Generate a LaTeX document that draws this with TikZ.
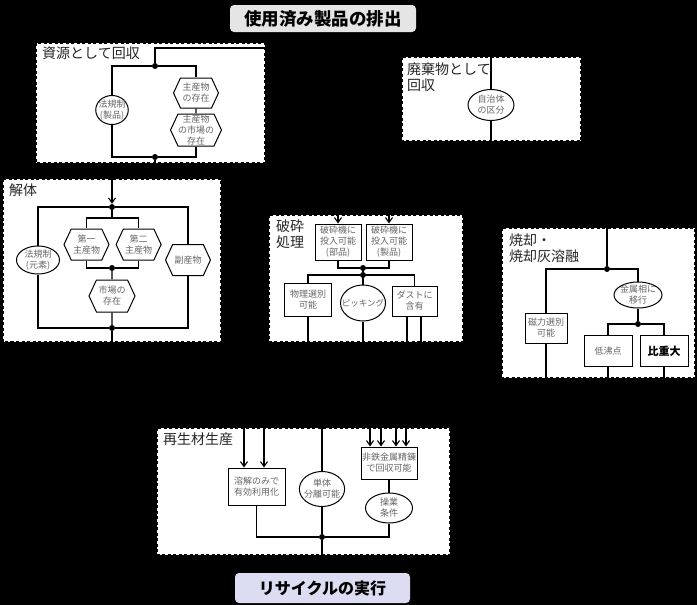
\documentclass[tikz,border=0pt]{standalone}
\usepackage{fontspec}
\setmainfont{Noto Sans CJK JP}
\usetikzlibrary{shapes.geometric, shapes.symbols, arrows.meta, positioning, calc}

\newcommand{\nodefont}{\fontsize{9}{11}\selectfont}

\begin{document}
\begin{tikzpicture}[
    x=1pt, y=-1pt,
    panel/.style={draw=black, fill=white, line width=2.4pt, dash pattern=on 3pt off 2.5pt},
    ptitle/.style={anchor=north west, align=left, inner sep=0pt, font=\fontsize{14}{16}\selectfont, text=black!85},
    headbox/.style={rounded corners=4pt, inner sep=0pt, font=\fontsize{17.5}{20}\selectfont\bfseries, text=black},
    proc/.style={rectangle, draw=black, line width=1pt, fill=white, align=center, inner sep=1pt, font=\nodefont, text=black!60},
    cond/.style={ellipse, draw=black, line width=1pt, fill=white, align=center, inner sep=-2pt, font=\nodefont, text=black!60},
    hexa/.style={signal, signal to=west and east, signal pointer angle=130, draw=black, line width=1pt, fill=white, align=center, inner sep=0pt, font=\nodefont, text=black!60},
    dot/.style={circle, fill=black, inner sep=0pt, minimum size=6pt},
    link/.style={line width=1.1pt},
    arr/.style={link, -{Straight Barb[length=5pt, width=7pt]}}
  ]
    \fill[black] (0,0) rectangle (697,605);
    \useasboundingbox (0,0) rectangle (697,605);

    % --- Start / end ---
    \node[headbox, fill=black!10, minimum width=186pt, minimum height=27pt] (start) at (323,18.5) {使用済み製品の排出};
    \node[headbox, fill={rgb,255:red,220;green,220;blue,242}, minimum width=175pt, minimum height=30pt, font=\fontsize{16}{18}\selectfont\bfseries] (recycle) at (322.5,588) {リサイクルの実行};

    % --- Panels ---
    \draw[panel] (36,43) rectangle (265,163);
    \draw[panel] (402,57) rectangle (581,141);
    \draw[panel] (3,179) rectangle (221,342);
    \draw[panel] (269,215) rectangle (463,342);
    \draw[panel] (502,228) rectangle (695,378);
    \draw[panel] (157,428) rectangle (450,555);

    \node[ptitle] (t1) at (42,47) {資源として回収};
    \node[ptitle] (t2) at (407,63) {廃棄物として\\回収};
    \node[ptitle] (t3) at (9,184) {解体};
    \node[ptitle] (t4) at (276,220) {破砕\\処理};
    \node[ptitle] (t5) at (509,234) {焼却・\\焼却灰溶融};
    \node[ptitle] (t6) at (163,433) {再生材生産};

    % --- Resource collection ---
    \node[cond, minimum width=32pt, minimum height=29pt] (lawp) at (112,110) {法規制\\(製品)};
    \node[hexa, minimum width=45pt, minimum height=30pt] (mainx) at (196,93) {主産物\\の存在};
    \node[hexa, minimum width=45pt, minimum height=32pt, below=5pt of mainx] (mainmk) {主産物\\の市場の\\存在};
    \node[dot] (j1a) at (155,66) {};
    \node[dot] (j1b) at (155,157) {};
    \coordinate (in1) at (265,48);
    \coordinate (out1) at (155,163);

    \draw[link] (in1) -| (j1a);
    \draw[link] (j1a) -| (lawp);
    \draw[link] (j1a) -| (mainx);
    \draw[link] (mainx) -- (mainmk);
    \draw[link] (lawp) |- (j1b);
    \draw[link] (mainmk) |- (j1b);
    \draw[link] (j1b) -- (out1);

    % --- Waste collection ---
    \node[cond, minimum width=46pt, minimum height=31pt] (muni) at (491,105) {自治体\\の区分};
    \coordinate (in2) at (491,57);
    \coordinate (out2) at (491,141);
    \draw[link] (in2) -- (muni) -- (out2);

    % --- Dismantling ---
    \node[cond, minimum width=43pt, minimum height=28pt] (lawe) at (38,260) {法規制\\(元素)};
    \node[hexa, minimum width=45pt, minimum height=31pt] (first) at (86.5,244.5) {第一\\主産物};
    \node[hexa, minimum width=45pt, minimum height=31pt, right=6pt of first] (second) {第二\\主産物};
    \node[hexa, minimum width=45pt, minimum height=31pt] (byprod) at (188,260) {副産物};
    \node[hexa, minimum width=46pt, minimum height=32pt] (market) at (112,296) {市場の\\存在};
    \node[dot] (j3a) at (112,207) {};
    \node[dot] (j3b) at (112,268) {};
    \node[dot] (j3c) at (112,328) {};
    \coordinate (in3) at (112,179);
    \coordinate (br3) at (112,218);
    \coordinate (out3) at (112,342);

    \draw[arr] (in3) -- (j3a);
    \draw[link] (j3a) -| (lawe);
    \draw[link] (j3a) -| (byprod);
    \draw[link] (j3a) -- (br3) -| (first);
    \draw[link] (br3) -| (second);
    \draw[link] (first) |- (j3b);
    \draw[link] (second) |- (j3b);
    \draw[link] (j3b) -- (market) -- (j3c);
    \draw[link] (lawe) |- (j3c);
    \draw[link] (byprod) |- (j3c);
    \draw[link] (j3c) -- (out3);

    % --- Shredding ---
    \node[proc, minimum width=46pt, minimum height=36pt] (shpart) at (338,242) {破砕機に\\投入可能\\(部品)};
    \node[proc, minimum width=46pt, minimum height=36pt, right=4pt of shpart] (shprod) {破砕機に\\投入可能\\(製品)};
    \node[proc, minimum width=47pt, minimum height=33pt] (phys) at (308,300) {物理選別\\可能};
    \node[cond, minimum width=45pt, minimum height=36pt, inner xsep=-7pt, font=\fontsize{8.5}{10}\selectfont] (pick) at (363,303) {ピッキング};
    \node[proc, minimum width=45pt, minimum height=30pt] (dust) at (414.5,301) {ダストに\\含有};
    \node[dot] (j4a) at (363,268) {};
    \node[dot] (j4b) at (363,275) {};
    \coordinate (b4) at (0,342);

    \draw[arr] (shpart |- 0,215) -- (shpart);
    \draw[arr] (shprod |- 0,215) -- (shprod);
    \draw[link] (shpart) |- (j4a);
    \draw[link] (shprod) |- (j4a);
    \draw[link] (j4a) -- (j4b);
    \draw[link] (j4b) -| (phys);
    \draw[link] (j4b) -- (pick);
    \draw[link] (j4b) -| (dust);
    \draw[link] (phys) -- (phys |- b4);
    \draw[link] (pick) -- (pick |- b4);
    \draw[link] ($(dust.south)+(-7.5,0)$) -- ($(dust.south |- b4)+(-7.5,0)$);
    \draw[link] ($(dust.south)+(6.5,0)$) -- ($(dust.south |- b4)+(6.5,0)$);

    % --- Incineration ---
    \node[proc, minimum width=42pt, minimum height=30pt] (magnet) at (546,328) {磁力選別\\可能};
    \node[cond, minimum width=48pt, minimum height=26pt] (metal) at (638,295) {金属相に\\移行};
    \node[proc, minimum width=48pt, minimum height=31pt] (lowbp) at (608,351) {低沸点};
    \node[proc, minimum width=48pt, minimum height=31pt, right=7pt of lowbp, font=\fontsize{11}{13}\selectfont\bfseries, text=black] (heavy) {比重大};
    \node[dot] (j5a) at (607,269) {};
    \node[dot] (j5b) at (638,324) {};
    \coordinate (in5) at (607,228);
    \coordinate (b5) at (0,378);

    \draw[link] (in5) -- (j5a);
    \draw[link] (j5a) -| (magnet);
    \draw[link] (j5a) -| (metal);
    \draw[link] (metal) -- (j5b);
    \draw[link] (j5b) -| (lowbp);
    \draw[link] (j5b) -| (heavy);
    \draw[link] (magnet) -- (magnet |- b5);
    \draw[link] (lowbp) -- (lowbp |- b5);
    \draw[link] (heavy) -- (heavy |- b5);

    % --- Recycled material ---
    \node[proc, minimum width=57pt, minimum height=37pt] (melt) at (256.5,486.5) {溶解のみで\\有効利用化};
    \node[cond, minimum width=45pt, minimum height=35pt] (unit) at (322,489) {単体\\分離可能};
    \node[proc, minimum width=56pt, minimum height=32pt] (nfm) at (389,463) {非鉄金属精錬\\で回収可能};
    \node[cond, minimum width=47pt, minimum height=30pt, below=13pt of nfm] (oper) {操業\\条件};
    \node[dot] (j6) at (322,537) {};
    \coordinate (in6) at (322,428);
    \coordinate (out6) at (322,555);

    \foreach \dx in {-12.5,7.5}
      \draw[arr] ($(melt.north)+(\dx,-40)$) -- ($(melt.north)+(\dx,0)$);
    \foreach \dx in {-19,-8,7,17}
      \draw[arr] ($(nfm.north)+(\dx,-19)$) -- ($(nfm.north)+(\dx,0)$);
    \draw[link] (in6) -- (unit) -- (j6) -- (out6);
    \draw[link] (melt) |- (j6);
    \draw[link] (nfm) -- (oper);
    \draw[link] (oper) |- (j6);

  \end{tikzpicture}
\end{document}
